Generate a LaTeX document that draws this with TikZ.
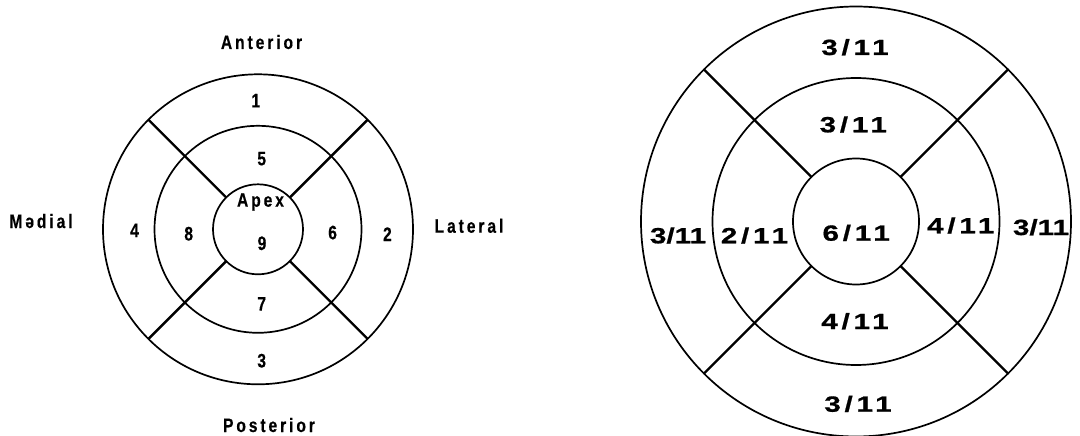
\documentclass[tikz,border=0pt]{standalone}
\usepackage{fontspec}
\setmainfont{Liberation Sans}
\newfontfamily\sidefont[FakeStretch=0.8,FakeBold=0.4,LetterSpace=15]{Liberation Sans}
\newfontfamily\fracfont[FakeStretch=1.35,FakeBold=0.8]{Liberation Sans}
\newfontfamily\fracwidefont[FakeStretch=1.35,FakeBold=0.8,LetterSpace=17]{Liberation Sans}
\usetikzlibrary{calc}

\begin{document}
\begin{tikzpicture}[x=1pt,y=-1pt,
  ring/.style={line width=1.7pt},
  divider/.style={line width=2.4pt},
  sidelabel/.style={anchor=base,inner sep=0pt,
    font=\sidefont\bfseries\fontsize{19.5}{20}\selectfont},
  seglabel/.style={sidelabel},
  frac/.style={anchor=base,inner sep=0pt,
    font=\fracfont\bfseries\fontsize{22}{24}\selectfont},
  fracwide/.style={frac,font=\fracwidefont\bfseries\fontsize{22}{24}\selectfont}
]
\useasboundingbox (0,0) rectangle (1080,436);
\coordinate (L) at (258,229.3);
\coordinate (R) at (856,221.5);

% left: segment numbers
\draw[ring] (L) circle[radius=155] (L) circle[radius=103.5] (L) circle[radius=45];
\foreach \a in {45,135,225,315}
  \draw[divider] ($(L)+(\a:45)$) -- ($(L)+(\a:155)$);
\node[sidelabel] (ant) at (261.5,49) {Anterior};
\node[sidelabel] (post) at (269,432) {Posterior};
\node[sidelabel] (med) at (41,228) {Mədial};
\node[sidelabel] (lat) at (469,232.7) {Lateral};
\node[seglabel] (s1) at (255.8,107.4) {1};
\node[seglabel] (s2) at (387.4,241) {2};
\node[seglabel] (s3) at (261.7,367.4) {3};
\node[seglabel] (s4) at (134.6,237) {4};
\node[seglabel] (s5) at (261.7,165.3) {5};
\node[seglabel] (s6) at (332.6,239.3) {6};
\node[seglabel] (s7) at (261.7,310.6) {7};
\node[seglabel] (s8) at (188.7,240.4) {8};
\node[seglabel] (apex) at (260.5,206.7) {Apex};
\node[seglabel] (s9) at (262,250) {9};

% right: fractions per segment
\draw[ring] (R) circle[radius=215] (R) circle[radius=143.5] (R) circle[radius=63];
\foreach \a in {45,135,225,315}
  \draw[divider] ($(R)+(\a:63)$) -- ($(R)+(\a:215)$);
\node[fracwide] (r1) at (855,55) {3/11};
\node[fracwide] (r5) at (853.3,132.3) {3/11};
\node[fracwide] (r9) at (856.2,240.7) {6/11};
\node[fracwide] (r7) at (855,329) {4/11};
\node[fracwide] (r3) at (858,411.7) {3/11};
\node[frac] (r4) at (678,243.3) {3/11};
\node[fracwide] (r8) at (754.5,243.3) {2/11};
\node[fracwide] (r6) at (960.8,233.3) {4/11};
\node[frac] (r2) at (1041,235) {3/11};
\end{tikzpicture}
\end{document}
